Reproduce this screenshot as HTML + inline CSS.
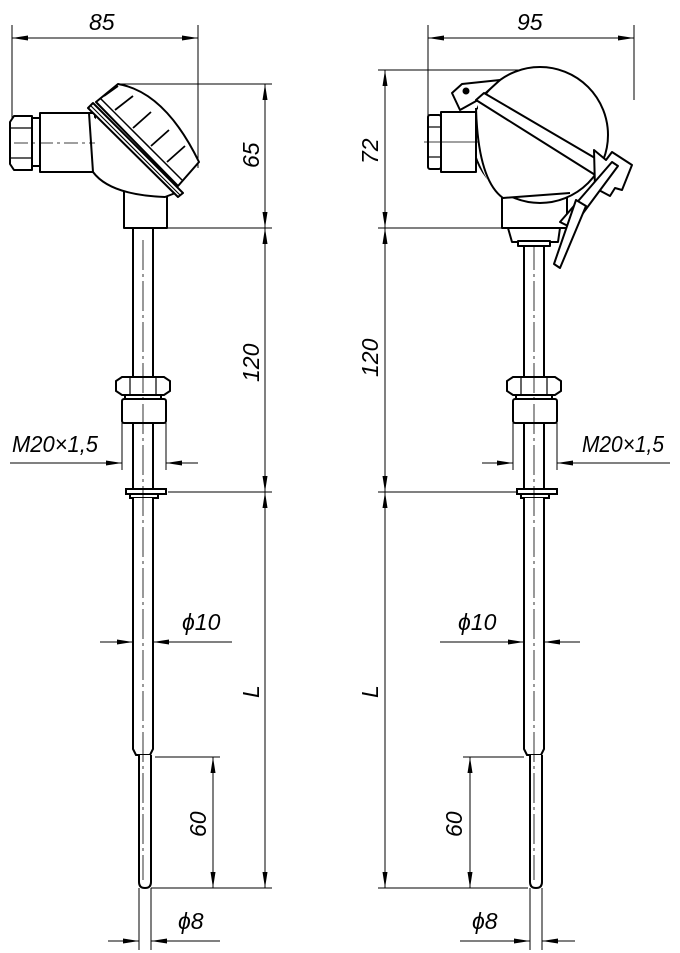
<!DOCTYPE html>
<html><head><meta charset="utf-8"><style>
html,body{margin:0;padding:0;background:#fff;}
svg{display:block}
text{font-family:"Liberation Sans",sans-serif;font-style:italic;font-size:23px;fill:#000;font-weight:300;}
</style></head><body>
<svg width="680" height="953" viewBox="0 0 680 953" xmlns="http://www.w3.org/2000/svg">
<defs>
<marker id="a" viewBox="0 0 16 6" refX="16" refY="3" markerWidth="16" markerHeight="6" orient="auto-start-reverse" markerUnits="userSpaceOnUse"><path d="M0,0.5 L16,3 L0,5.5 Z" fill="#000"/></marker>
<g id="stem" fill="#fff" stroke="#000" stroke-width="2">
  <rect x="133" y="228" width="20" height="150"/>
  <path d="M122,377 L164,377 L170,381 L170,391 L164,395 L122,395 L116,391 L116,381 Z"/>
  <line x1="130" y1="377" x2="130" y2="395" stroke-width="1.2"/><line x1="156" y1="377" x2="156" y2="395" stroke-width="1.2"/>
  <rect x="125" y="395" width="36" height="4"/>
  <rect x="122" y="399" width="44" height="24" rx="2"/>
  <rect x="133" y="423" width="20" height="67"/>
  <rect x="126" y="489" width="40" height="5"/>
  <rect x="130" y="494" width="28" height="4"/>
  <path d="M133,498 L133,749 L136,755 L150,755 L153,749 L153,498"/>
  <path d="M139,755 L139,882 Q139,888 145,888 Q151,888 151,882 L151,755"/>
  <line x1="143" y1="240" x2="143" y2="880" stroke-width="0.8" stroke-dasharray="30,4,3,4"/>
</g>
</defs>
<g stroke="#000" stroke-width="1" fill="none">
<line x1="12" y1="25" x2="12" y2="118"/><line x1="198" y1="25" x2="198" y2="168"/>
<line x1="12" y1="38" x2="198" y2="38" marker-start="url(#a)" marker-end="url(#a)"/>
<line x1="118" y1="84" x2="272" y2="84"/><line x1="155" y1="228" x2="272" y2="228"/>
<line x1="168" y1="492" x2="272" y2="492"/><line x1="151" y1="888" x2="272" y2="888"/>
<line x1="155" y1="757" x2="220" y2="757"/>
<line x1="265" y1="84" x2="265" y2="228" marker-start="url(#a)" marker-end="url(#a)"/>
<line x1="265" y1="228" x2="265" y2="492" marker-start="url(#a)" marker-end="url(#a)"/>
<line x1="265" y1="492" x2="265" y2="888" marker-start="url(#a)" marker-end="url(#a)"/>
<line x1="213" y1="757" x2="213" y2="888" marker-start="url(#a)" marker-end="url(#a)"/>
<line x1="122" y1="423" x2="122" y2="470"/><line x1="166" y1="423" x2="166" y2="470"/>
<line x1="10" y1="463" x2="122" y2="463" marker-end="url(#a)"/><line x1="166" y1="463" x2="198" y2="463" marker-start="url(#a)"/>
<line x1="100" y1="642" x2="133" y2="642" marker-end="url(#a)"/><line x1="153" y1="642" x2="232" y2="642" marker-start="url(#a)"/>
<line x1="139" y1="888" x2="139" y2="950"/><line x1="151" y1="888" x2="151" y2="950"/>
<line x1="108" y1="941" x2="139" y2="941" marker-end="url(#a)"/><line x1="151" y1="941" x2="220" y2="941" marker-start="url(#a)"/>
<line x1="428" y1="25" x2="428" y2="118"/><line x1="634" y1="25" x2="634" y2="100"/>
<line x1="428" y1="38" x2="634" y2="38" marker-start="url(#a)" marker-end="url(#a)"/>
<line x1="378" y1="70" x2="520" y2="70"/><line x1="378" y1="228" x2="502" y2="228"/>
<line x1="378" y1="492" x2="522" y2="492"/><line x1="378" y1="888" x2="528" y2="888"/>
<line x1="463" y1="757" x2="524" y2="757"/>
<line x1="385" y1="70" x2="385" y2="228" marker-start="url(#a)" marker-end="url(#a)"/>
<line x1="385" y1="228" x2="385" y2="492" marker-start="url(#a)" marker-end="url(#a)"/>
<line x1="385" y1="492" x2="385" y2="888" marker-start="url(#a)" marker-end="url(#a)"/>
<line x1="470" y1="757" x2="470" y2="888" marker-start="url(#a)" marker-end="url(#a)"/>
<line x1="513" y1="423" x2="513" y2="470"/><line x1="557" y1="423" x2="557" y2="470"/>
<line x1="482" y1="463" x2="513" y2="463" marker-end="url(#a)"/><line x1="557" y1="463" x2="670" y2="463" marker-start="url(#a)"/>
<line x1="440" y1="642" x2="524" y2="642" marker-end="url(#a)"/><line x1="544" y1="642" x2="580" y2="642" marker-start="url(#a)"/>
<line x1="530" y1="888" x2="530" y2="950"/><line x1="542" y1="888" x2="542" y2="950"/>
<line x1="460" y1="941" x2="530" y2="941" marker-end="url(#a)"/><line x1="542" y1="941" x2="575" y2="941" marker-start="url(#a)"/>
</g>
<use href="#stem"/>
<use href="#stem" transform="translate(391,0)"/>
<g fill="#fff" stroke="#000" stroke-width="2" stroke-linejoin="round">
  <rect x="124" y="190" width="43" height="38"/>
  <path d="M40,113 L95,113 L100,160 Q112,190 170,195 L178,190 L92,108 Z" fill="#fff" stroke="none"/>
  <rect x="40" y="113" width="55" height="59"/>
  <path d="M89,113 L93,172 Q110,195 165,197 L178,192"/>
  <rect x="32" y="118" width="8" height="48"/>
  <path d="M10,122 L14,116 L32,116 L32,170 L14,170 L10,164 Z"/>
  <line x1="10" y1="128" x2="32" y2="128" stroke-width="1.2"/><line x1="10" y1="158" x2="32" y2="158" stroke-width="1.2"/>
  <path d="M88,108 L93,103 L183,193 L178,197 Z"/>
  <line x1="91" y1="106" x2="180" y2="195" stroke-width="1.2"/>
  <path d="M96,102 L118,84 Q165,92 199,162 L178,186 Z"/>
  <line x1="100" y1="98" x2="182" y2="180" stroke-width="1.5"/>
  <path d="M104,96 L118,86 M115,110 L133,96 M133,128 L151,112 M151,146 L169,130 M167,162 L185,146" stroke-width="1.8"/>
</g>
<line x1="14" y1="143" x2="95" y2="143" stroke="#000" stroke-width="0.8" stroke-dasharray="14,4,3,4"/>
<g fill="#fff" stroke="#000" stroke-width="2" stroke-linejoin="round">
  <rect x="502" y="196" width="65" height="32"/>
  <path d="M508,228 L560,228 L558,242 L512,242 Z"/>
  <rect x="518" y="241" width="32" height="5"/>
  <circle cx="540" cy="135" r="68"/>
  <path d="M478,100 L478,160 Q490,190 503,198 L567,194 L590,170 L578,100 Z" fill="#fff" stroke="none"/>
  <path d="M476,108 Q478,180 503,198 L570,193"/>
  <rect x="441" y="112" width="35" height="60"/>
  <rect x="428" y="115" width="13" height="54" rx="2"/>
  <line x1="428" y1="127" x2="441" y2="127" stroke-width="1.2"/><line x1="428" y1="157" x2="441" y2="157" stroke-width="1.2"/>
  <path d="M452,93 L462,84 L500,80 L478,100 L460,110 Z"/>
  <circle cx="466" cy="91" r="2.5" fill="#000"/>
  <path d="M476,100 L484,93 L612,168 L600,178 Z"/>
  <path d="M594,150 L606,160 L612,152 L632,165 L622,190 L615,188 L610,196 L595,188 Z"/>
  <path d="M560,222 L612,162 L618,166 L572,228 Z"/>
  <path d="M576,200 L586,206 L560,268 L554,264 Z"/>
</g>
<line x1="424" y1="142" x2="478" y2="142" stroke="#000" stroke-width="0.8"/>
<text x="89" y="30">85</text>
<text x="517" y="30">95</text>
<text transform="translate(259,168) rotate(-90)">65</text>
<text transform="translate(259,382) rotate(-90)">120</text>
<text transform="translate(259,698) rotate(-90)">L</text>
<text transform="translate(206,837) rotate(-90)">60</text>
<text transform="translate(378,164) rotate(-90)">72</text>
<text transform="translate(378,377) rotate(-90)">120</text>
<text transform="translate(378,698) rotate(-90)">L</text>
<text transform="translate(462,837) rotate(-90)">60</text>
<text x="12" y="452" textLength="86" lengthAdjust="spacingAndGlyphs">M20×1,5</text>
<text x="582" y="452" textLength="82" lengthAdjust="spacingAndGlyphs">M20×1,5</text>
<text x="182" y="630">ϕ10</text>
<text x="458" y="630">ϕ10</text>
<text x="178" y="929">ϕ8</text>
<text x="472" y="929">ϕ8</text>
</svg>
</body></html>
